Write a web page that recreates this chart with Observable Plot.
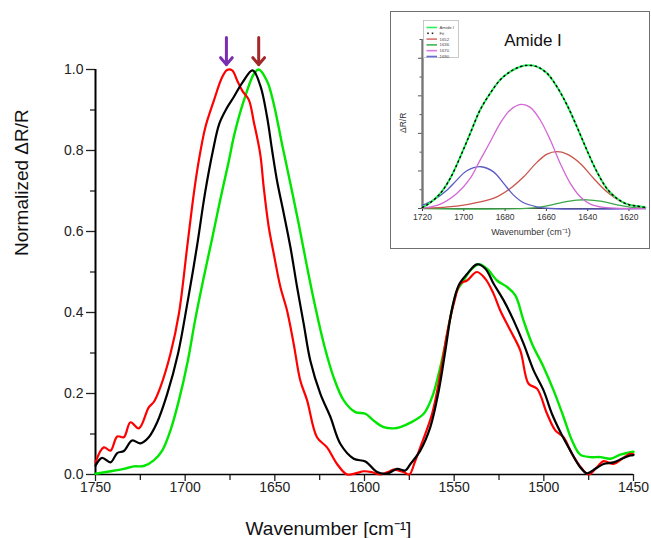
<!DOCTYPE html>
<html>
<head>
<meta charset="utf-8">
<script src="https://cdn.jsdelivr.net/npm/d3@7"></script>
<script src="https://cdn.jsdelivr.net/npm/@observablehq/plot@0.6"></script>
<style>
  html, body { margin: 0; padding: 0; background: #fff; }
  body { font-family: "Liberation Sans", Arial, sans-serif; }
  #wrap { position: relative; width: 651px; height: 538px; overflow: hidden; }
  #main { position: absolute; left: 0; top: 0; }
  #inset { position: absolute; left: 390px; top: 11px; border: 1.3px solid #707070; background: #fff; line-height: 0; }
  #legend { position: absolute; left: 423px; top: 20px; line-height: 0; }
</style>
</head>
<body>
<div id="wrap">
  <div id="main"></div>
  <div id="inset"></div>
  <div id="legend"></div>
</div>
<script>
// ---------- main chart data (wavenumber in cm^-1, normalized ΔR/R) ----------
const redX = [1750,1745.4,1741.6,1737.9,1734.2,1730.5,1725.8,1720.3,1717.5,1713.8,1708.2,1703.5,1698.9,1695.2,1692.4,1688.7,1684.0,1679.4,1676.6,1673.8,1671.0,1668.2,1664.5,1661.7,1658.1,1656.2,1653.4,1650.6,1646.9,1643.2,1639.5,1635.8,1632.0,1626.5,1620.9,1615.3,1609.7,1604,1600.5,1596,1591.2,1586,1583.7,1578.2,1575,1572,1568.9,1562.3,1557.7,1554.0,1550.3,1546.6,1542.8,1537.3,1532.6,1528.0,1524.3,1518.7,1513.1,1508.5,1503.8,1498.2,1493.6,1489.0,1484.3,1478.7,1475.0,1470.4,1466.7,1461.1,1456.4,1451.8,1450];
const redY = [0.030,0.067,0.059,0.094,0.092,0.129,0.114,0.166,0.179,0.216,0.298,0.397,0.561,0.693,0.775,0.858,0.923,0.981,0.999,0.998,0.973,0.948,0.925,0.870,0.790,0.709,0.611,0.545,0.463,0.405,0.323,0.232,0.183,0.092,0.067,0.026,0.000,0.004,0.008,0.006,0.000,0.008,0.012,0.006,0.000,0.030,0.067,0.150,0.249,0.347,0.421,0.471,0.479,0.500,0.483,0.446,0.405,0.356,0.306,0.224,0.212,0.150,0.109,0.092,0.051,0.014,0.000,0.018,0.033,0.026,0.039,0.051,0.050];

const blackX = [1750,1746.3,1741.6,1737.9,1734.2,1729.6,1724.9,1720.3,1715.6,1710.0,1704.0,1698.5,1693.5,1689.0,1684.5,1681.0,1677.0,1672.9,1668.2,1662.4,1658.1,1654.3,1651.5,1648.8,1645.0,1641.3,1637.6,1633.9,1630.2,1624.6,1619.0,1613.5,1606.0,1599.5,1593.0,1587.4,1581.9,1577.2,1574.4,1568.9,1563.3,1558.6,1554.9,1551.2,1547.5,1542.8,1537.3,1532.6,1528.0,1522.4,1516.8,1511.3,1505.7,1500.1,1495.5,1490.8,1485.2,1479.7,1476.0,1471.3,1466.7,1461.1,1456.4,1451.8,1450];
const blackY = [0.022,0.041,0.030,0.053,0.058,0.084,0.077,0.092,0.129,0.199,0.298,0.430,0.561,0.693,0.800,0.866,0.903,0.932,0.967,0.998,0.960,0.882,0.800,0.726,0.644,0.561,0.463,0.372,0.281,0.199,0.142,0.076,0.039,0.032,0.006,0.002,0.014,0.010,0.026,0.059,0.117,0.207,0.306,0.409,0.467,0.495,0.519,0.508,0.471,0.430,0.380,0.323,0.257,0.207,0.150,0.105,0.059,0.018,0.003,0.014,0.026,0.030,0.039,0.047,0.048];

const greenX = [1750,1741.6,1734.2,1728.6,1723.1,1717.5,1712.8,1708.2,1703.5,1698.5,1694.5,1690.0,1684.8,1680.5,1676.0,1672.5,1667.3,1661.7,1659.0,1654.3,1650.6,1646.0,1641.3,1636.7,1632.0,1627.4,1622.7,1617.2,1611.6,1605.1,1599.5,1594.9,1589.3,1583.7,1580.0,1574.4,1567.0,1562.3,1558.6,1554.9,1552.1,1548.4,1544.7,1541.0,1536.3,1531.7,1526.1,1520.5,1515.9,1511.3,1506.6,1500.1,1494.5,1489.0,1484.3,1479.7,1474.1,1468.5,1462.9,1457.4,1451.8,1450];
const greenY = [0.002,0.008,0.014,0.020,0.021,0.035,0.059,0.109,0.183,0.281,0.380,0.479,0.586,0.677,0.767,0.841,0.923,0.989,1.000,0.971,0.915,0.816,0.718,0.619,0.512,0.413,0.323,0.240,0.183,0.154,0.150,0.133,0.117,0.114,0.117,0.128,0.150,0.191,0.249,0.323,0.388,0.454,0.479,0.504,0.519,0.508,0.479,0.463,0.442,0.380,0.323,0.265,0.207,0.142,0.084,0.049,0.043,0.043,0.039,0.049,0.055,0.056];

// main axis ticks
const xMajorTicks = [1750,1700,1650,1600,1550,1500,1450];
const xMinorTicks = [1725,1675,1625,1575,1525,1475];
const yMajorTicks = [0,0.2,0.4,0.6,0.8,1.0];
const yMinorTicks = [0.1,0.3,0.5,0.7,0.9];

// peak arrows (wavenumber of arrow, arrow tail / tip in ΔR/R units)
const arrowWn = [1677, 1659];
const arrowColors = ["#7a2fb0", "#a3282a"];
const arrowTail = 1.079;
const arrowTip = 1.012;

// ---------- inset (Amide I band fit) ----------
const amideX = [1720,1716.3,1711.4,1706.6,1701.7,1696.9,1692.1,1687.2,1682.4,1677.5,1672.7,1668.6,1664.6,1659.7,1654.9,1650,1645.2,1640.4,1635.5,1630.7,1625.8,1621,1616.1,1612];
const amideY = [0.007,0.038,0.100,0.200,0.344,0.500,0.656,0.767,0.856,0.911,0.944,0.953,0.944,0.900,0.811,0.689,0.544,0.389,0.244,0.133,0.067,0.029,0.016,0.007];
const band1690X = [1720,1714.7,1708.2,1703.4,1698.5,1691.7,1685.6,1680.7,1675.9,1671.0,1664.6,1658.1,1612];
const band1690Y = [0.022,0.056,0.122,0.189,0.251,0.278,0.244,0.167,0.089,0.038,0.011,0.000,0.000];
const band1670X = [1720,1711.4,1703.4,1696.9,1692.1,1687.2,1682.4,1677.5,1672.3,1667.8,1663.0,1658.1,1653.3,1648.4,1643.6,1638.7,1632.3,1622.6,1612];
const band1670Y = [0.002,0.029,0.100,0.200,0.322,0.444,0.567,0.656,0.693,0.673,0.589,0.456,0.300,0.167,0.078,0.029,0.007,0.000,0.000];
const band1652X = [1720,1703.4,1692.1,1684.0,1677.5,1671.0,1664.6,1659.7,1654.9,1650.0,1643.6,1637.1,1630.7,1624.2,1617.7,1612.1];
const band1652Y = [0.002,0.016,0.044,0.078,0.133,0.211,0.307,0.362,0.378,0.362,0.300,0.200,0.111,0.049,0.018,0.007];
const band1636X = [1720,1667.8,1659.7,1651.7,1645.2,1640.4,1633.9,1625.8,1619.4,1612.1];
const band1636Y = [0.000,0.002,0.018,0.042,0.056,0.058,0.049,0.024,0.009,0.000];

const insetXTicks = [1720,1700,1680,1660,1640,1620];
const insetYMajor = [0,0.25,0.5,0.75,1.0];
const insetYMinor = [0.125,0.375,0.625,0.875,1.125];

const legendNames = ["Amide I","Fit","1652","1636","1670","1690"];
const legendColors = ["#2cf060","#000000","#d9716b","#3fb552","#e07ae0","#6a6ad8"];
const bandColors = {b1652: "#c9554c", b1636: "#3aa648", b1670: "#d566d5", b1690: "#5a5ac4", amide: "#22ee55"};

const toRows = (xs, ys) => xs.map((x, i) => ({wn: x, v: ys[i]}));

const font = "Liberation Sans, Arial, Helvetica, sans-serif";

// ---------- main plot ----------
const main = Plot.plot({
  width: 651,
  height: 538,
  marginLeft: 95,
  marginRight: 18,
  marginTop: 69,
  marginBottom: 64,
  style: {fontFamily: font, fontSize: "14px", color: "#222", background: "transparent", overflow: "visible"},
  x: {domain: [1750, 1450]},
  y: {domain: [0, 1]},
  marks: [
    Plot.axisX(xMinorTicks, {tickSize: 6, tickFormat: () => "", label: null, strokeWidth: 1.3}),
    Plot.axisX(xMajorTicks, {tickSize: 7, tickPadding: 1, tickFormat: d => String(d), label: null, fontSize: 14, strokeWidth: 1.3}),
    Plot.axisY(yMinorTicks, {tickSize: 5, tickFormat: () => "", label: null, strokeWidth: 1.3}),
    Plot.axisY(yMajorTicks, {tickSize: 9, tickPadding: 3, tickFormat: d3.format(".1f"), label: null, fontSize: 14, strokeWidth: 1.3}),
    Plot.ruleX([1750], {stroke: "#000", strokeWidth: 2}),
    Plot.ruleY([0], {stroke: "#000", strokeWidth: 1.6}),
    Plot.line(toRows(greenX, greenY), {x: "wn", y: "v", stroke: "#00e600", strokeWidth: 2.4, curve: "catmull-rom"}),
    Plot.line(toRows(redX, redY), {x: "wn", y: "v", stroke: "#ff0000", strokeWidth: 2.2, curve: "catmull-rom"}),
    Plot.line(toRows(blackX, blackY), {x: "wn", y: "v", stroke: "#000000", strokeWidth: 2.2, curve: "catmull-rom"}),
    Plot.arrow([arrowWn[0]], {x: d => d, y1: () => arrowTail, y2: () => arrowTip, stroke: arrowColors[0], strokeWidth: 3, headLength: 11, headAngle: 80}),
    Plot.arrow([arrowWn[1]], {x: d => d, y1: () => arrowTail, y2: () => arrowTip, stroke: arrowColors[1], strokeWidth: 3, headLength: 11, headAngle: 80}),
    Plot.text(["Normalized \u0394R/R"], {text: d => d, frameAnchor: "left", lineAnchor: "middle", rotate: -90, dx: -74, dy: -16, fontSize: 19, fill: "#111"}),
    Plot.text(["Wavenumber [cm\u207B\u00B9]"], {text: d => d, frameAnchor: "bottom", lineAnchor: "middle", dx: -36, dy: 54, fontSize: 19, fill: "#111"})
  ]
});
document.getElementById("main").append(main);

// ---------- inset plot ----------
const inset = Plot.plot({
  width: 258,
  height: 236,
  marginLeft: 31,
  marginRight: 4,
  marginTop: 27,
  marginBottom: 40,
  style: {fontFamily: font, fontSize: "8.5px", color: "#333", background: "#fff", overflow: "visible"},
  x: {domain: [1720, 1612]},
  y: {domain: [0, 1.125]},
  marks: [
    Plot.axisX(insetXTicks, {tickSize: 3, tickPadding: 2, tickFormat: d => String(d), label: null, fontSize: 8.5}),
    Plot.axisY(insetYMinor, {tickSize: 2.5, tickFormat: () => "", label: null, stroke: "#555"}),
    Plot.axisY(insetYMajor, {tickSize: 4, tickFormat: () => "", label: null, stroke: "#555"}),
    Plot.ruleX([1720], {stroke: "#777", strokeWidth: 2.4}),
    Plot.ruleY([0], {stroke: "#444", strokeWidth: 1}),
    Plot.line(toRows(band1636X, band1636Y), {x: "wn", y: "v", stroke: bandColors.b1636, strokeWidth: 1.3, curve: "catmull-rom"}),
    Plot.line(toRows(band1652X, band1652Y), {x: "wn", y: "v", stroke: bandColors.b1652, strokeWidth: 1.3, curve: "catmull-rom"}),
    Plot.line(toRows(band1690X, band1690Y), {x: "wn", y: "v", stroke: bandColors.b1690, strokeWidth: 1.3, curve: "catmull-rom"}),
    Plot.line(toRows(band1670X, band1670Y), {x: "wn", y: "v", stroke: bandColors.b1670, strokeWidth: 1.3, curve: "catmull-rom"}),
    Plot.line(toRows(amideX, amideY), {x: "wn", y: "v", stroke: bandColors.amide, strokeWidth: 2, curve: "catmull-rom"}),
    Plot.line(toRows(amideX, amideY), {x: "wn", y: "v", stroke: "#000", strokeWidth: 1.4, strokeDasharray: "1.3 3.6", curve: "catmull-rom"}),
    Plot.text(["Amide I"], {text: d => d, frameAnchor: "top", lineAnchor: "middle", dx: -1, dy: 1, fontSize: 17, fill: "#111"}),
    Plot.text(["Wavenumber (cm\u207B\u00B9)"], {text: d => d, frameAnchor: "bottom", lineAnchor: "middle", dx: -3, dy: 24, fontSize: 9, fill: "#333"}),
    Plot.text(["\u0394R/R"], {text: d => d, frameAnchor: "left", lineAnchor: "middle", rotate: -90, dx: -19, dy: 9, fontSize: 8.5, fill: "#333"})
  ]
});
document.getElementById("inset").append(inset);

// ---------- inset legend ----------
const lg = d3.create("svg").attr("width", 36).attr("height", 38)
  .style("font-family", font).style("overflow", "visible");
lg.append("rect").attr("x", 0.5).attr("y", 0.5).attr("width", 35).attr("height", 37)
  .attr("fill", "#fff").attr("stroke", "#bbb").attr("stroke-width", 0.8);
legendNames.forEach((name, i) => {
  const yy = 7.5 + i * 5.8;
  if (name === "Fit") {
    [5, 9.5].forEach(cx => lg.append("rect").attr("x", cx - 0.8).attr("y", yy - 0.8).attr("width", 1.6).attr("height", 1.6).attr("fill", "#222"));
  } else {
    lg.append("line").attr("x1", 3.5).attr("x2", 14).attr("y1", yy).attr("y2", yy)
      .attr("stroke", legendColors[i]).attr("stroke-width", 1.6);
  }
  lg.append("text").attr("x", 16.5).attr("y", yy).attr("dy", "0.35em")
    .attr("font-size", 4.3).attr("fill", "#444").text(name);
});
document.getElementById("legend").append(lg.node());
</script>
</body>
</html>
